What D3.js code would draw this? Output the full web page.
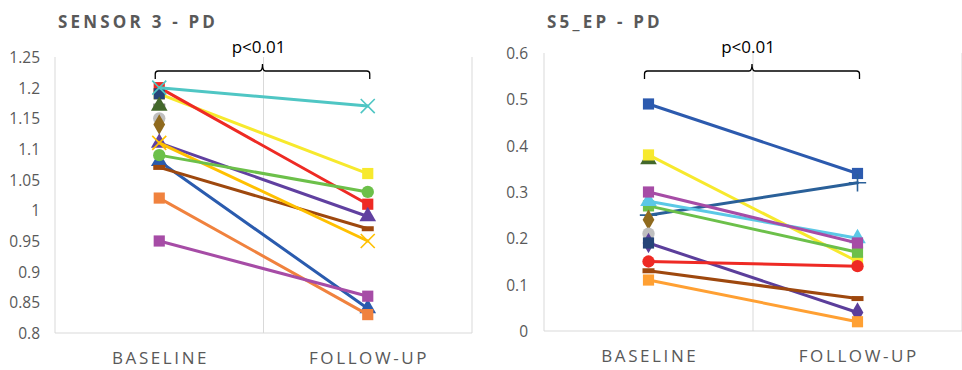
<!DOCTYPE html>
<html><head><meta charset="utf-8">
<script src="https://cdn.jsdelivr.net/npm/d3@7"></script>
<style>
html,body{margin:0;padding:0;background:#fff;}
svg{display:block;}
</style>
</head><body>
<svg id="chart" width="962" height="370"></svg>
<script>
const categories = ["BASELINE", "FOLLOW-UP"];

// Left chart: Sensor 3 - PD
const leftTitle = "SENSOR 3 - PD";
const leftTicks = [0.8, 0.85, 0.9, 0.95, 1, 1.05, 1.1, 1.15, 1.2, 1.25];
const leftBaseline = [1.19, 1.20, 1.19, 1.20, 1.17, 1.17, 1.15, 1.14, 1.08, 1.07, 1.11, 1.11, 1.09, 1.02, 0.95];
const leftFollowup = [1.06, 1.01, null, 1.17, null, null, null, null, 0.84, 0.97, 0.99, 0.95, 1.03, 0.83, 0.86];
const leftColors = ["#F7E92D", "#EE2A24", "#264478", "#4FC6C4", "#7F7F7F", "#43682B", "#BFBFBF", "#8F6A1E", "#2A5BAE", "#9E480E", "#6040A0", "#FFC000", "#6CC04A", "#F0823E", "#A64CA6"];
const leftMarkers = ["square", "square", "square", "x", "dash", "triangle", "circle", "diamond", "triangle", "dash", "triangle", "x", "circle", "square", "square"];

// Right chart: S5_EP - PD
const rightTitle = "S5_EP - PD";
const rightTicks = [0, 0.1, 0.2, 0.3, 0.4, 0.5, 0.6];
const rightBaseline = [0.49, 0.37, 0.38, 0.25, 0.27, 0.28, 0.30, 0.24, 0.21, 0.19, 0.19, 0.15, 0.13, 0.11];
const rightFollowup = [0.34, null, 0.15, 0.32, 0.17, 0.20, 0.19, null, null, 0.04, null, 0.14, 0.07, 0.02];
const rightColors = ["#2C5AAE", "#43682B", "#F7E92D", "#2A6099", "#6CC04A", "#5BC8E6", "#A64CA6", "#8F6A1E", "#BFBFBF", "#5B3E9B", "#264478", "#EE2A24", "#9E480E", "#FFA033"];
const rightMarkers = ["square", "triangle", "square", "plus", "square", "triangle", "square", "diamond", "circle", "diamond", "square", "circle", "dash", "square"];

const pText = "p<0.01";

const svg = d3.select("#chart");

function drawChart(cfg) {
  const g = svg.append("g");
  const x = d3.scaleBand().domain(categories).range([cfg.x0, cfg.x1]).paddingInner(0).paddingOuter(0);
  const y = d3.scaleLinear().domain([cfg.ticks[0], cfg.ticks[cfg.ticks.length - 1]]).range([cfg.yBottom, cfg.yTop]);

  // vertical category gridlines
  const bounds = [cfg.x0, cfg.x0 + x.bandwidth(), cfg.x1];
  g.selectAll("line.vg").data(bounds).join("line")
    .attr("x1", d => d).attr("x2", d => d)
    .attr("y1", cfg.yTop).attr("y2", cfg.yBottom)
    .attr("stroke", "#D9D9D9").attr("stroke-width", 1);
  // bottom axis line
  g.append("line").attr("x1", cfg.x0).attr("x2", cfg.x1)
    .attr("y1", cfg.yBottom).attr("y2", cfg.yBottom)
    .attr("stroke", "#D9D9D9").attr("stroke-width", 1);

  // y axis tick labels
  const yAxis = d3.axisLeft(y).tickValues(cfg.ticks).tickSize(0).tickPadding(0)
    .tickFormat(d => String(+d.toFixed(2)));
  const ya = g.append("g").attr("transform", `translate(${cfg.labelRight},0)`).call(yAxis);
  ya.select(".domain").remove();
  ya.selectAll("text").attr("font-family", "Open Sans, sans-serif").attr("font-size", "15.5px")
    .attr("fill", "#595959").attr("dy", "0.35em");

  // x axis labels
  const xAxis = d3.axisBottom(x).tickSize(0).tickPadding(0);
  const xa = g.append("g").attr("transform", `translate(1.3,${cfg.yBottom + 19})`).call(xAxis);
  xa.select(".domain").remove();
  xa.selectAll("text").attr("font-family", "Open Sans, sans-serif").attr("font-size", "17px")
    .attr("fill", "#595959").attr("letter-spacing", "2.6px").attr("dy", "0.71em");

  // title
  g.append("text").attr("x", cfg.x0 + 3).attr("y", 28).text(cfg.title)
    .attr("font-family", "Open Sans, sans-serif").attr("font-weight", "bold").attr("font-size", "17px")
    .attr("letter-spacing", "3.2px").attr("fill", "#595959");

  // series
  const n = cfg.base.length;
  const cx = c => x(c) + x.bandwidth() / 2;
  for (let i = 0; i < n; i++) {
    const pts = [[categories[0], cfg.base[i]], [categories[1], cfg.follow[i]]].filter(p => p[1] != null);
    const sg = g.append("g");
    const color = cfg.colors[i];
    if (pts.length > 1) {
      sg.append("path").datum(pts)
        .attr("d", d3.line().x(p => cx(p[0])).y(p => y(p[1])))
        .attr("fill", "none").attr("stroke", color).attr("stroke-width", 3).attr("stroke-linecap", "round");
    }
    const m = cfg.markers[i];
    pts.forEach(p => {
      const px = cx(p[0]), py = y(p[1]);
      let sel;
      if (m === "square") {
        sel = sg.append("path").attr("d", d3.symbol(d3.symbolSquare, 125)()).attr("fill", color);
      } else if (m === "circle") {
        sel = sg.append("path").attr("d", d3.symbol(d3.symbolCircle, 120)()).attr("fill", color);
      } else if (m === "triangle") {
        sel = sg.append("path").attr("d", d3.symbol(d3.symbolTriangle, 120)()).attr("fill", color);
      } else if (m === "diamond") {
        sel = sg.append("path").attr("d", d3.symbol(d3.symbolDiamond, 120)()).attr("fill", color);
      } else if (m === "x") {
        sel = sg.append("path").attr("d", d3.symbol(d3.symbolTimes, 130)()).attr("fill", "none")
          .attr("stroke", color).attr("stroke-width", 1.6);
      } else if (m === "plus") {
        sel = sg.append("path").attr("d", d3.symbol(d3.symbolPlus, 100)()).attr("fill", "none")
          .attr("stroke", color).attr("stroke-width", 1.6);
      } else if (m === "dash") {
        sel = sg.append("rect").attr("x", -6).attr("y", -2.5).attr("width", 12).attr("height", 5).attr("fill", color);
      }
      if (sel) sel.attr("transform", `translate(${px},${py})`);
    });
  }

  // bracket annotation
  const bx0 = cx(categories[0]) - 4, bx1 = cx(categories[1]) + 2;
  const bmid = (bx0 + bx1) / 2;
  const by = 71, r = 3;
  const path = `M${bx0},${by + 8} L${bx0},${by + r} Q${bx0},${by} ${bx0 + r},${by} L${bmid - r},${by} Q${bmid},${by} ${bmid},${by - r - 4} Q${bmid},${by} ${bmid + r},${by} L${bx1 - r},${by} Q${bx1},${by} ${bx1},${by + r} L${bx1},${by + 8}`;
  g.append("path").attr("d", path).attr("fill", "none").attr("stroke", "#000").attr("stroke-width", 1.3);
  g.append("text").attr("x", bmid - 4).attr("y", 53).attr("text-anchor", "middle").text(pText)
    .attr("font-family", "Open Sans, sans-serif").attr("font-size", "17px").attr("fill", "#000");
}

drawChart({ x0: 55, x1: 472, yTop: 57, yBottom: 333, labelRight: 40, ticks: leftTicks, title: leftTitle,
  base: leftBaseline, follow: leftFollowup, colors: leftColors, markers: leftMarkers });
drawChart({ x0: 544, x1: 962, yTop: 53, yBottom: 331, labelRight: 528, ticks: rightTicks, title: rightTitle,
  base: rightBaseline, follow: rightFollowup, colors: rightColors, markers: rightMarkers });
</script>
</body></html>
